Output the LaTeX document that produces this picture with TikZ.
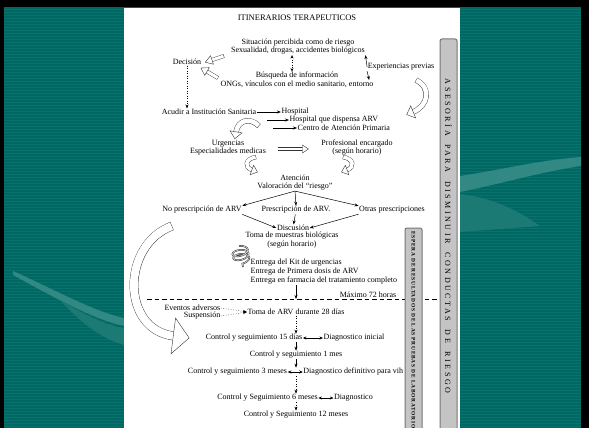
\documentclass[tikz,border=0pt]{standalone}
\usepackage{fontspec}
\setmainfont{Liberation Serif}
\newfontfamily\barfont[LetterSpace=32]{Liberation Serif}
\newfontfamily\barfontsmall[LetterSpace=14]{Liberation Serif}
\usetikzlibrary{arrows.meta, positioning, calc, decorations.markings, decorations.pathmorphing}

\definecolor{slideteal}{RGB}{0,104,99}
\definecolor{stripeteal}{RGB}{10,113,108}
\definecolor{waveteal}{RGB}{50,136,130}
\definecolor{barfill}{RGB}{196,196,196}
\definecolor{barline}{RGB}{118,118,118}

\begin{document}
\begin{tikzpicture}[
    x=1pt, y=-1pt,
    txt/.style={font=\fontsize{8}{8.5}\selectfont, align=center, inner sep=0.5pt},
    arr/.style={draw, line width=0.5pt, -{Stealth[length=4pt, width=3pt]}},
    dotarr/.style={arr, dotted},
    biarr/.style={draw, line width=0.5pt, {Stealth[length=3.5pt, width=3pt]}-{Stealth[length=3.5pt, width=3pt]}},
    hollow/.style n args={3}{
        postaction={draw=black!80, line width=#1+0.8pt},
        postaction={draw=white, line width=#1, shorten <=0.4pt},
        postaction={decorate, decoration={markings, mark=at position 0.995 with {
            \filldraw[fill=white, draw=black!80, line width=0.4pt] (0,-#2) -- (#3,0) -- (0,#2) -- cycle;}}}},
    sidebar/.style={draw=barline, line width=1pt, fill=barfill, rounded corners=2pt}
]
\useasboundingbox (0,0) rectangle (589,428);

% slide background
\fill[black] (0,0) rectangle (589,428);
\fill[slideteal] (4,7) rectangle (581,428);
\foreach \yy in {9,12,...,426}
    \draw[stripeteal, line width=0.8pt] (4,\yy) -- (581,\yy);
\fill[waveteal] (13,271) .. controls (55,290) and (95,312) .. (124,318)
    -- (124,326) .. controls (95,320) and (55,298) .. (13,275) -- cycle;
\fill[waveteal!55!slideteal] (60,300) .. controls (90,318) and (110,326) .. (124,328)
    -- (124,345) .. controls (100,338) and (80,322) .. (60,300) -- cycle;
\fill[waveteal] (460,176) .. controls (500,170) and (540,160) .. (581,157)
    -- (581,166) .. controls (540,172) and (500,184) .. (460,192) -- cycle;
\fill[waveteal!55!slideteal] (460,194) .. controls (495,198) and (520,212) .. (540,226)
    -- (460,232) -- cycle;
\fill[white] (124,8) rectangle (460,428);

% title and top cycle
\node[txt, font=\fontsize{8.5}{9}\selectfont] (titulo) at (297,18) {ITINERARIOS TERAPEUTICOS};
\node[txt] (sit) at (298,46.5) {Situación percibida como de riesgo\\Sexualidad, drogas, accidentes biológicos};
\node[txt] (busq) at (297,80) {Búsqueda de información\\ONGs, vínculos con el medio sanitario, entorno};
\node[txt] (dec) at (187,62) {Decisión};
\node[txt] (exp) at (401,67) {Experiencias previas};

% institutions
\node[txt] (acudir) at (209,112) {Acudir a Institución Sanitaria};
\node[txt, right=24pt of acudir] (hosp) {Hospital};
\node[txt, anchor=west] (hosparv) at (289,120) {Hospital que dispensa ARV};
\node[txt, anchor=west] (cap) at (297,128) {Centro de Atención Primaria};
\node[txt] (urg) at (228,147.5) {Urgencias\\Especialidades medicas};
\node[txt] (prof) at (357,147.5) {Profesional encargado\\(según horario)};
\node[txt] (aten) at (295,182.5) {Atención\\Valoración del “riesgo”};

% prescription
\node[txt] (nopres) at (202,210) {No prescripción de ARV};
\node[txt] (pres) at (296,210) {Prescripción de ARV.};
\node[txt] (otras) at (392,210) {Otras prescripciones};
\node[txt] (disc) at (293,228) {Discusión};
\node[txt] (muestras) at (292,240) {Toma de muestras biológicas\\(según horario)};
\node[txt, font=\fontsize{8}{9}\selectfont, anchor=west, align=left] (entrega) at (250,272)
    {Entrega del Kit de urgencias\\Entrega de Primera dosis de ARV\\Entrega en farmacia del tratamiento completo};

% follow-up
\draw[line width=1pt, dash pattern=on 4.5pt off 3pt] (147,299) -- (437,299);
\coordinate (corte) at (296,299);
\node[txt] (maximo) at (368,295) {Máximo 72 horas};
\node[txt, anchor=east] (eventos) at (221,308) {Eventos adversos};
\node[txt, anchor=east] (susp) at (221,316) {Suspensión};
\node[txt] (toma28) at (296,312) {Toma de ARV durante 28 días};
\node[txt] (c15) at (254,338) {Control y seguimiento 15 días};
\node[txt, right=20pt of c15] (d15) {Diagnostico inicial};
\node[txt] (c1) at (296,355) {Control y seguimiento 1 mes};
\node[txt] (c3) at (237.5,372) {Control y seguimiento 3 meses};
\node[txt, right=15pt of c3] (d3) {Diagnostico definitivo para vih};
\node[txt] (c6) at (267.5,398) {Control y Seguimiento 6 meses};
\node[txt, right=15pt of c6] (d6) {Diagnostico};
\node[txt] (c12) at (296,415) {Control y Seguimiento 12 meses};

% side bars
\draw[sidebar] (405,228) rectangle (422,440);
\node[rotate=-90, anchor=west, inner sep=0pt, font=\barfontsmall\bfseries\fontsize{5.4}{6}\selectfont] (espera) at (413.5,231)
    {ESPERA DE RESULTADOS DE LAS PRUEBAS DE LABORATORIO};
\draw[sidebar] (440,39) rectangle (457,440);
\node[rotate=-90, inner sep=0pt, font=\barfont\fontsize{8}{8}\selectfont] (asesoria) at (448.5,236)
    {ASESORÍA\hspace{4pt} PARA\hspace{4pt} DISMINUIR\hspace{4pt} CONDUCTAS\hspace{4pt} DE\hspace{4pt} RIESGO};

% connectors
\draw[dotarr] (dec.south) -- (dec.south |- acudir.north);
\draw[biarr, dotted] ([xshift=-6pt]sit.south) -- ([xshift=-5pt]busq.north);
\draw[arr] (exp.west) -- (sit.south east);
\draw[arr] (exp.south west) -- ([xshift=-5pt]busq.east);
\draw[arr] (acudir) -- (hosp);
\draw[arr] ([xshift=-22pt]hosparv.west) -- (hosparv.west);
\draw[arr] ([xshift=-24pt]cap.west) -- (cap.west);
\draw[arr] (aten.south) -- (nopres.north east);
\draw[arr] (aten.south) -- (pres.north);
\draw[arr] (aten.south) -- (otras.north west);
\draw[arr] (nopres.south east) -- (disc.west);
\draw[arr] (pres) -- (disc);
\draw[arr] (otras.south west) -- (disc.east);
\draw[arr] (entrega.south -| corte) -- (corte);
\draw[dotarr] (eventos.east) -- (toma28.west);
\draw[dotarr] (susp.east) -- (toma28.west);
\draw[dotarr] (toma28.south) -- (toma28.south |- c15.north);
\draw[biarr] (c15) -- (d15);
\draw[arr] (c1.north |- c15.south) -- (c1.north);
\draw[arr] (c1.south) -- (c1.south |- c3.north);
\draw[biarr] (c3) -- (d3);
\draw[dotarr] (c1.south |- c3.south) -- (c1.south |- c6.north);
\draw[biarr] (c6) -- (d6);
\draw[dotarr] (c1.south |- c6.south) -- (c12.north);

% hollow arrows
\path[hollow={3pt}{4.5pt}{7pt}] ($(dec.east)+(22,-6)$) -- ($(dec.east)+(10,-2)$);
\path[hollow={3pt}{4.5pt}{7pt}] ($(dec.east)+(16,16)$) -- ($(dec.east)+(5,9.5)$);
\path[hollow={2.5pt}{4pt}{6pt}] ($(urg.east)+(11,1.5)$) -- ($(urg.east)+(36,1.5)$);
\path[hollow={4.5pt}{6.5pt}{7pt}] (416,80) .. controls (432,88) and (428,106) .. (413,112);
\path[hollow={4.5pt}{6pt}{7pt}] (259,126) .. controls (250,117) and (238,120) .. (236,132);
\path[hollow={3.5pt}{5pt}{6pt}] (256,157) .. controls (245,159) and (244,167) .. (252,170);
\path[hollow={3.5pt}{5pt}{6pt}] (343,157) .. controls (354,159) and (355,167) .. (347,170);
\path[hollow={8pt}{18pt}{16pt}] (172,226) .. controls (121,245) and (121,330) .. (174,336);
\draw[black!80, line width=1.6pt, decorate, decoration={coil, amplitude=8pt, segment length=4pt, aspect=0.5}]
    (239,246) -- (243,267);
\draw[black!15, line width=0.6pt, decorate, decoration={coil, amplitude=8pt, segment length=4pt, aspect=0.5}]
    (239,246) -- (243,267);
\end{tikzpicture}
\end{document}
